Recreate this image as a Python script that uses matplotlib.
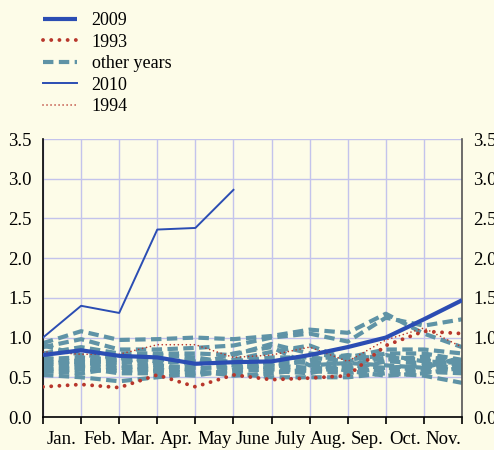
import matplotlib
matplotlib.use("Agg")
import matplotlib.pyplot as plt
import numpy as np

# month labels (placed between the month boundaries)
months = ["Jan.", "Feb.", "Mar.", "Apr.", "May", "June", "July", "Aug.", "Sep.", "Oct.", "Nov."]

# series values, Jan..Dec boundaries
y2009 = [0.78, 0.84, 0.77, 0.75, 0.67, 0.69, 0.70, 0.78, 0.88, 1.00, 1.23, 1.47]
y1993 = [0.38, 0.41, 0.37, 0.53, 0.38, 0.53, 0.47, 0.49, 0.52, 0.90, 1.08, 1.05]
y2010 = [1.00, 1.40, 1.31, 2.36, 2.38, 2.86]
y1994 = [0.82, 0.79, 0.79, 0.91, 0.91, 0.75, 0.78, 0.88, 0.70, 0.97, 1.12, 0.88]
other_years = [
    [0.93, 1.08, 0.97, 0.98, 1.00, 0.98, 1.02, 1.10, 1.06, 1.30, 1.05, 0.88],
    [0.88, 0.98, 0.85, 0.85, 0.87, 0.90, 1.00, 1.05, 0.95, 1.25, 1.15, 1.23],
    [0.80, 0.88, 0.80, 0.80, 0.80, 0.78, 0.92, 0.80, 0.75, 0.85, 0.85, 0.80],
    [0.73, 0.75, 0.72, 0.72, 0.70, 0.70, 0.75, 0.75, 0.70, 0.80, 0.80, 0.72],
    [0.68, 0.70, 0.68, 0.78, 0.75, 0.68, 0.68, 0.70, 0.65, 0.75, 0.72, 0.65],
    [0.62, 0.65, 0.62, 0.65, 0.62, 0.62, 0.65, 0.62, 0.60, 0.70, 0.68, 0.60],
    [0.57, 0.60, 0.58, 0.60, 0.55, 0.58, 0.60, 0.58, 0.55, 0.62, 0.65, 0.57],
    [0.53, 0.50, 0.45, 0.50, 0.55, 0.55, 0.50, 0.50, 0.50, 0.55, 0.52, 0.43],
    [0.65, 0.72, 0.70, 0.65, 0.58, 0.52, 0.55, 0.60, 0.62, 0.58, 0.57, 0.55],
    [0.90, 0.78, 0.75, 0.70, 0.68, 0.72, 0.82, 0.90, 0.72, 0.78, 0.70, 0.68],
    [0.75, 0.68, 0.65, 0.60, 0.65, 0.80, 0.88, 0.65, 0.68, 0.65, 0.62, 0.75],
    [0.60, 0.62, 0.55, 0.55, 0.52, 0.60, 0.70, 0.68, 0.58, 0.52, 0.55, 0.62],
    [0.70, 0.66, 0.74, 0.68, 0.72, 0.65, 0.62, 0.72, 0.78, 0.72, 0.76, 0.70],
    [0.58, 0.55, 0.62, 0.58, 0.60, 0.66, 0.58, 0.55, 0.65, 0.62, 0.60, 0.66],
]

bg = "#fdfce8"
teal = "#5f93a6"
blue = "#2b4db3"
red = "#b8372c"

plt.rcParams["font.family"] = "serif"
plt.rcParams["font.serif"] = ["Liberation Serif", "DejaVu Serif"]

fig = plt.figure(figsize=(4.94, 4.5), dpi=100, facecolor=bg)
ax = fig.add_axes([43 / 494, 1 - 417 / 450, (462 - 43) / 494, (417 - 139) / 450])
ax.set_facecolor(bg)

h_other = None
for vals in other_years:
    ln, = ax.plot(range(len(vals)), vals, color=teal, lw=3.0,
                  linestyle=(0, (2.5, 1.3)), dash_capstyle="butt", zorder=2)
    h_other = ln

h1993, = ax.plot(range(len(y1993)), y1993, color=red, lw=2.8,
                 linestyle=(0, (0.01, 2.1)), dash_capstyle="round", zorder=3)
h1994, = ax.plot(range(len(y1994)), y1994, color=red, lw=1.2,
                 linestyle=(0, (0.01, 2.4)), dash_capstyle="round", zorder=3)
h2009, = ax.plot(range(len(y2009)), y2009, color=blue, lw=3.0, zorder=4,
                 solid_capstyle="butt")
h2010, = ax.plot(range(len(y2010)), y2010, color=blue, lw=1.4, zorder=4)

ax.set_xlim(0, 11)
ax.set_ylim(0, 3.5)
yt = np.arange(0, 3.51, 0.5)
ax.set_yticks(yt)
ax.set_yticklabels([f"{v:.1f}" for v in yt])
ax.set_xticks(range(12))
ax.set_xticklabels([])
ax.set_xticks(np.arange(len(months)) + 0.5, minor=True)
ax.set_xticklabels(months, minor=True)
ax.grid(True, color="#c3c3ec", lw=1.0, zorder=0)
ax.set_axisbelow(True)

ax.tick_params(axis="x", which="major", direction="out", length=5, width=1.2, color="black")
ax.tick_params(axis="x", which="minor", length=0, labelsize=13.5, pad=10)
ax.tick_params(axis="y", length=0, labelsize=13.5, pad=8,
               labelleft=True, labelright=True)

ax.spines["top"].set_visible(False)
ax.spines["left"].set_color("black")
ax.spines["left"].set_linewidth(1.2)
ax.spines["bottom"].set_color("black")
ax.spines["bottom"].set_linewidth(1.2)
ax.spines["right"].set_color("#555555")
ax.spines["right"].set_linewidth(1.2)

fig.legend([h2009, h1993, h_other, h2010, h1994],
           ["2009", "1993", "other years", "2010", "1994"],
           loc="upper left", bbox_to_anchor=(43 / 494, 1 - 12 / 450),
           frameon=False, fontsize=13, handlelength=1.9, handletextpad=0.8,
           labelspacing=0.25, borderpad=0, borderaxespad=0)

fig.savefig("out.png", dpi=100, facecolor=bg)
